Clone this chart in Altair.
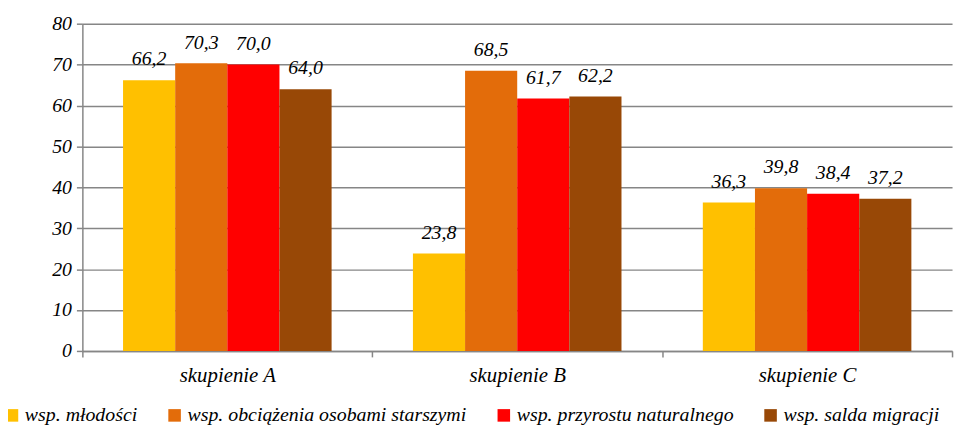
import altair as alt
import pandas as pd

groups = ["skupienie A", "skupienie B", "skupienie C"]
series = ["wsp. młodości", "wsp. obciążenia osobami starszymi",
          "wsp. przyrostu naturalnego", "wsp. salda migracji"]
colors = ["#FFC000", "#E36C0A", "#FF0000", "#984806"]
v_mlodosci = [66.2, 23.8, 36.3]
v_obciazenia = [70.3, 68.5, 39.8]
v_przyrostu = [70.0, 61.7, 38.4]
v_salda = [64.0, 62.2, 37.2]
y_ticks = [0, 10, 20, 30, 40, 50, 60, 70, 80]

rows = []
for s, vals in zip(series, [v_mlodosci, v_obciazenia, v_przyrostu, v_salda]):
    for g, v in zip(groups, vals):
        rows.append({"grupa": g, "seria": s, "wartosc": v,
                     "etykieta": f"{v:.1f}".replace(".", ",")})
df = pd.DataFrame(rows)

FONT = "Liberation Serif"

x = alt.X("grupa:N", sort=groups, title=None,
          scale=alt.Scale(paddingInner=0, paddingOuter=0),
          axis=alt.Axis(labelAngle=0, tickBand="extent", labelPadding=8,
                        labelFont=FONT, labelFontStyle="italic",
                        labelFontSize=21, labelColor="#000000",
                        domainColor="#868686", domainWidth=1.5,
                        tickColor="#868686", tickWidth=1.5, tickSize=6))
xo = alt.XOffset("seria:N", sort=series,
                 scale=alt.Scale(paddingInner=0, paddingOuter=0.78))
y = alt.Y("wartosc:Q", title=None,
          scale=alt.Scale(domain=[0, 80], nice=False),
          axis=alt.Axis(values=y_ticks, labelPadding=5, grid=True,
                        labelFont=FONT, labelFontStyle="italic",
                        labelFontSize=20, labelColor="#000000",
                        domainColor="#868686", domainWidth=1.5,
                        tickColor="#868686", tickWidth=1.5, tickSize=6,
                        gridColor="#868686", gridWidth=1.5))

bars = alt.Chart(df).mark_bar().encode(
    x=x, xOffset=xo, y=y,
    color=alt.Color("seria:N", sort=series,
                    scale=alt.Scale(domain=series, range=colors),
                    legend=alt.Legend(title=None, orient="none", direction="horizontal",
                                      legendX=-81, legendY=385,
                                      symbolType="square", symbolSize=160,
                                      symbolStrokeWidth=0,
                                      labelFont=FONT, labelFontStyle="italic",
                                      labelFontSize=20, labelColor="#000000",
                                      labelLimit=400, columnPadding=27,
                                      labelOffset=3)),
)

labels = alt.Chart(df).mark_text(
    font=FONT, fontStyle="italic", fontSize=20, color="#000000",
    baseline="alphabetic", dy=-15
).encode(x=x, xOffset=xo, y=y, text="etykieta:N")

chart = alt.layer(bars, labels).properties(
    width=877, height=330,
    padding={"left": 75, "top": 14, "right": 5, "bottom": 90},
    autosize="none",
).configure_view(strokeWidth=0)

chart.save("out.html", embed_options={"renderer": "svg", "actions": False})
